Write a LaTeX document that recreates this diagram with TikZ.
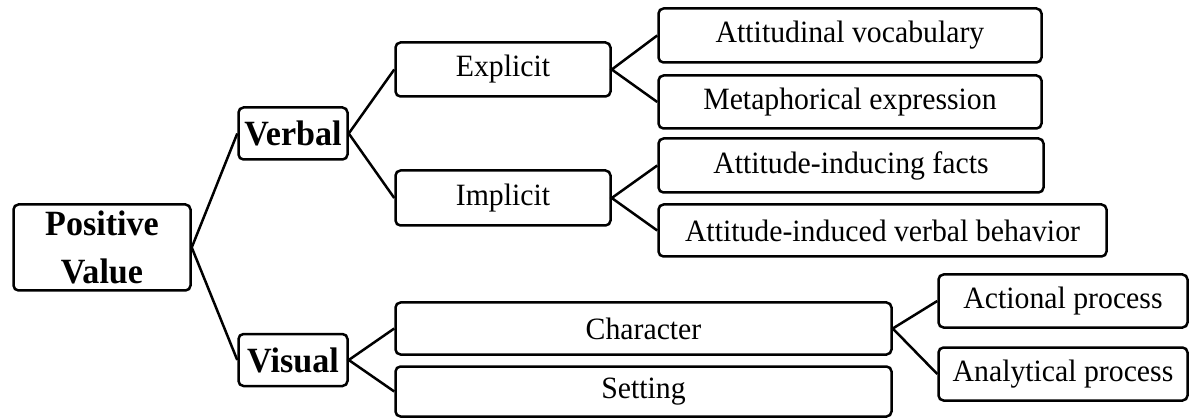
\documentclass[tikz,border=0pt]{standalone}
\usepackage{fontspec}
\setmainfont[FakeStretch=0.96]{Liberation Serif}
\tikzset{
	box/.style={draw, line width=2.5pt, rounded corners=5pt, inner sep=0pt,
		font=\fontsize{31}{36}\selectfont},
	headbox/.style={box, font=\fontsize{35.5}{48}\selectfont\bfseries, align=center},
	link/.style={line width=2.5pt}
}
\begin{document}
\begin{tikzpicture}[x=1pt, y=-1pt]
\useasboundingbox (0,0) rectangle (1190,419);
% root and first level
\node[headbox, minimum width=177, minimum height=86] (pv) at (102,247.5) {Positive\\Value};
\node[headbox, minimum width=109, minimum height=52] (verbal) at (293,133.5) {Verbal};
\node[headbox, minimum width=109, minimum height=52] (visual) at (293,360) {Visual};
% second level
\node[box, minimum width=215, minimum height=54] (explicit) at (503,69.5) {Explicit};
\node[box, minimum width=215, minimum height=55] (implicit) at (503,198) {Implicit};
\node[box, minimum width=496, minimum height=52] (charac) at (643.5,328.5) {Character};
\node[box, minimum width=496, minimum height=50] (setting) at (643.5,391.5) {Setting};
% third level
\node[box, minimum width=383, minimum height=54] (vocab) at (850,35.5) {Attitudinal vocabulary};
\node[box, minimum width=383, minimum height=53] (metaph) at (850,102) {Metaphorical expression};
\node[box, minimum width=385, minimum height=54] (facts) at (851,165.5) {Attitude-inducing facts};
\node[box, minimum width=448, minimum height=52] (behav) at (882.5,230.5) {Attitude-induced verbal behavior};
\node[box, minimum width=249, minimum height=53] (actional) at (1063,301) {Actional process};
\node[box, minimum width=249, minimum height=53] (analytic) at (1063,374) {Analytical process};
% connectors
\draw[link] (verbal.west) -- (pv.east) -- (visual.west);
\draw[link] (explicit.west) -- (verbal.east) -- (implicit.west);
\draw[link] (charac.west) -- (visual.east) -- (setting.west);
\draw[link] (vocab.west) -- (explicit.east) -- (metaph.west);
\draw[link] (facts.west) -- (implicit.east) -- (behav.west);
\draw[link] (actional.west) -- (charac.east) -- (analytic.west);
\end{tikzpicture}
\end{document}
